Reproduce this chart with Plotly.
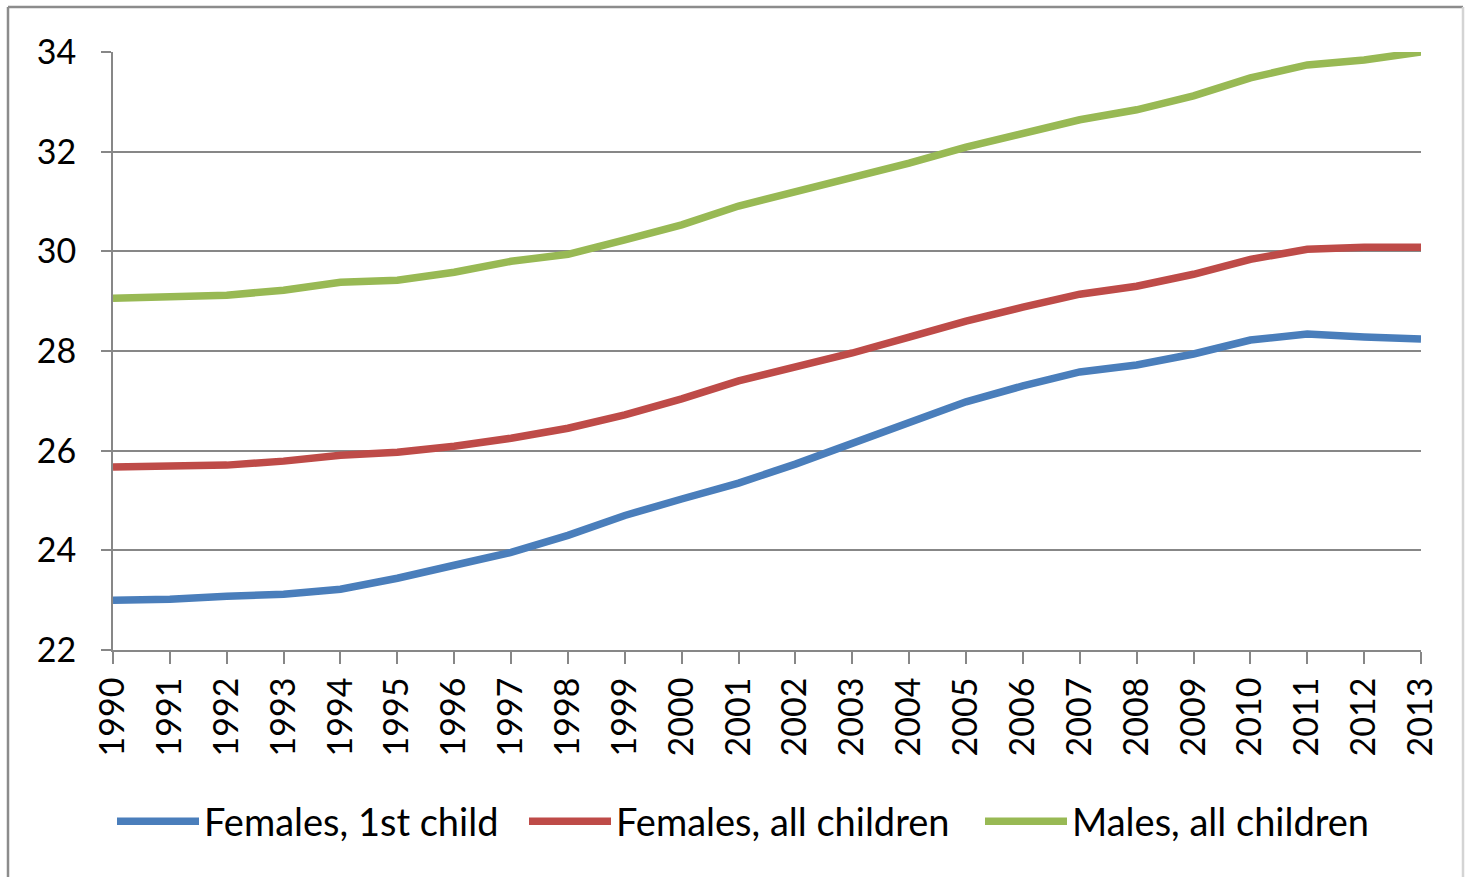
import plotly.graph_objects as go

years = list(range(1990, 2014))

females_first_child = [23.00, 23.02, 23.08, 23.12, 23.22, 23.44, 23.70, 23.96, 24.30, 24.70,
                       25.03, 25.35, 25.73, 26.15, 26.57, 26.98, 27.30, 27.58, 27.72, 27.94,
                       28.22, 28.34, 28.28, 28.24]
females_all_children = [25.67, 25.69, 25.71, 25.79, 25.91, 25.97, 26.09, 26.25, 26.45, 26.72,
                        27.04, 27.40, 27.68, 27.96, 28.28, 28.60, 28.88, 29.14, 29.30, 29.54,
                        29.84, 30.04, 30.08, 30.08]
males_all_children = [29.06, 29.10, 29.12, 29.22, 29.38, 29.42, 29.58, 29.80, 29.94, 30.23,
                      30.53, 30.91, 31.19, 31.47, 31.77, 32.09, 32.35, 32.64, 32.84, 33.12,
                      33.48, 33.74, 33.84, 34.00]

series_names = ["Females, 1st child", "Females, all children", "Males, all children"]
series_colors = ["#4A7EBB", "#BE4B48", "#98B954"]
y_ticks = [22, 24, 26, 28, 30, 32, 34]

FONT = "Lato"
GRID = "#878787"

# plot area in pixels, used to place the frame and legends
L, R, T, B = 113, 1421, 52, 650
W, H = R - L, B - T

def px_x(px):
    return (px - L) / W

def px_y(py):
    return (B - py) / H

legend_ids = ["legend", "legend2", "legend3"]
legend_left_px = [112, 524, 980]

fig = go.Figure()
for name, vals, col, lid in zip(series_names,
                                [females_first_child, females_all_children, males_all_children],
                                series_colors, legend_ids):
    fig.add_trace(go.Scatter(x=years, y=vals, name=name, mode="lines", legend=lid,
                             line=dict(color=col, width=7.5)))

legend_style = dict(orientation="h", xanchor="left", y=px_y(790), yanchor="top",
                    font=dict(family=FONT, size=38, color="black"),
                    itemwidth=82, bgcolor="rgba(0,0,0,0)")
legends = {lid: dict(x=px_x(lx), **legend_style) for lid, lx in zip(legend_ids, legend_left_px)}

fig.update_layout(
    width=1465, height=877,
    margin=dict(l=L, r=1465 - R, t=T, b=877 - B),
    paper_bgcolor="white", plot_bgcolor="white",
    font=dict(family=FONT, size=34, color="black"),
    showlegend=True,
    **legends,
    xaxis=dict(range=[1990, 2013], tickvals=years, ticktext=[str(y) for y in years],
               tickangle=-90, showgrid=False, zeroline=False,
               showline=True, linecolor=GRID, linewidth=2,
               ticks="outside", ticklen=12, tickwidth=2, tickcolor=GRID,
               tickfont=dict(family=FONT, size=34, color="black")),
    yaxis=dict(range=[22, 34], tickvals=y_ticks, showgrid=True, gridcolor=GRID, gridwidth=2,
               zeroline=False, showline=True, linecolor=GRID, linewidth=2,
               ticks="outside", ticklen=10, tickwidth=2, tickcolor=GRID,
               ticklabelstandoff=18,
               tickfont=dict(family=FONT, size=34, color="black")),
)

# chart frame: top and left darker, right edge lighter
x_left, x_right = px_x(8), px_x(1463)
y_top, y_bottom = px_y(7), px_y(900)
fig.add_shape(type="line", xref="paper", yref="paper", x0=x_left, x1=x_right, y0=y_top, y1=y_top,
              line=dict(color="#8C8C8C", width=2.5))
fig.add_shape(type="line", xref="paper", yref="paper", x0=x_left, x1=x_left, y0=y_bottom, y1=y_top,
              line=dict(color="#8C8C8C", width=2.5))
fig.add_shape(type="line", xref="paper", yref="paper", x0=x_right, x1=x_right, y0=y_bottom, y1=y_top,
              line=dict(color="#D4D4D4", width=2.5))

fig.write_html("out.html")
